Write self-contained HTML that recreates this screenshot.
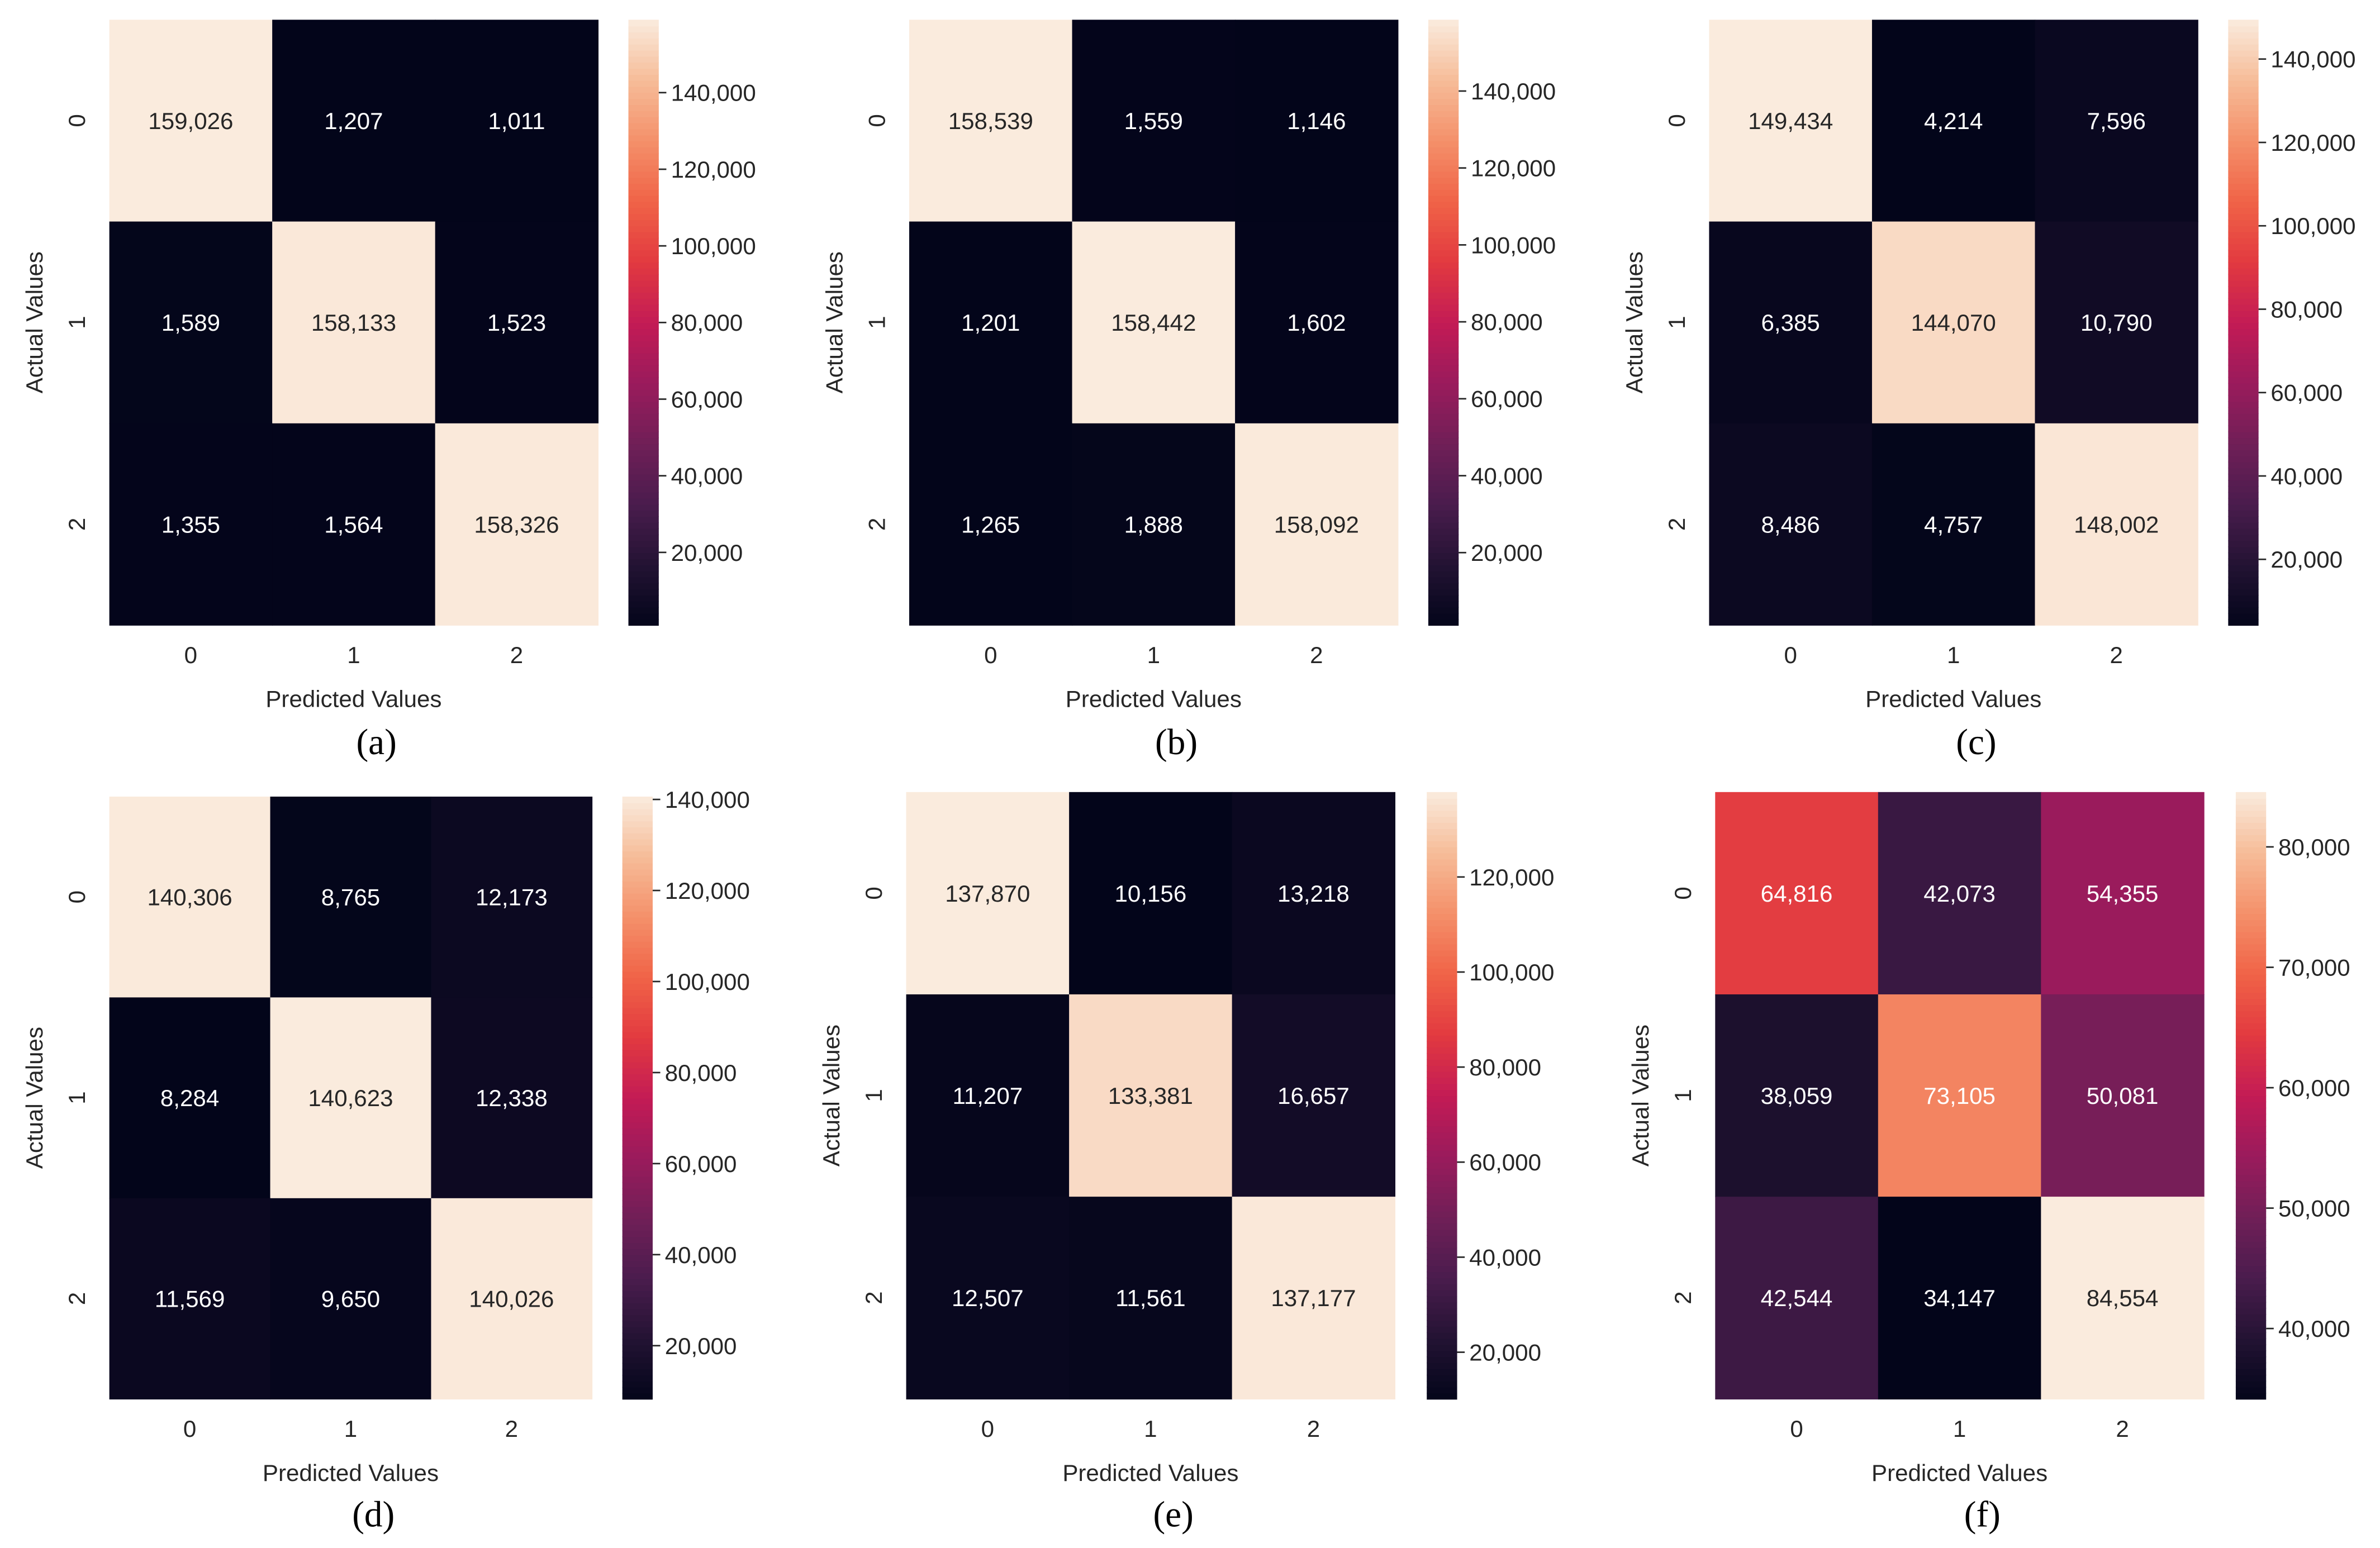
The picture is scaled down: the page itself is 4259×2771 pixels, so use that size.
<!DOCTYPE html>
<html><head><meta charset="utf-8"><style>
html,body{margin:0;padding:0;background:#fff}
svg{display:block}
</style></head><body>
<svg id="fig" width="4259" height="2771" viewBox="0 0 1568 1020.2" xmlns="http://www.w3.org/2000/svg"></svg>
<script>
const panelLabels = ["(a)","(b)","(c)","(d)","(e)","(f)"];
const classLabels = ["0","1","2"];
const valuesA = [[159026,1207,1011],[1589,158133,1523],[1355,1564,158326]];
const valuesB = [[158539,1559,1146],[1201,158442,1602],[1265,1888,158092]];
const valuesC = [[149434,4214,7596],[6385,144070,10790],[8486,4757,148002]];
const valuesD = [[140306,8765,12173],[8284,140623,12338],[11569,9650,140026]];
const valuesE = [[137870,10156,13218],[11207,133381,16657],[12507,11561,137177]];
const valuesF = [[64816,42073,54355],[38059,73105,50081],[42544,34147,84554]];
const ticksA = [20000,40000,60000,80000,100000,120000,140000];
const ticksB = [20000,40000,60000,80000,100000,120000,140000];
const ticksC = [20000,40000,60000,80000,100000,120000,140000];
const ticksD = [20000,40000,60000,80000,100000,120000,140000];
const ticksE = [20000,40000,60000,80000,100000,120000];
const ticksF = [40000,50000,60000,70000,80000];

const allValues=[valuesA,valuesB,valuesC,valuesD,valuesE,valuesF];
const allTicks=[ticksA,ticksB,ticksC,ticksD,ticksE,ticksF];
// layout (display units)
const layout=[
 {x0:72,x1:394,y0:13,y1:412,cb:414,tx:432,xl:461,pl:489},
 {x0:599,x1:921,y0:13,y1:412,cb:941,tx:432,xl:461,pl:489},
 {x0:1126,x1:1448,y0:13,y1:412,cb:1468,tx:432,xl:461,pl:489},
 {x0:72,x1:390,y0:525,y1:922,cb:410,tx:942,xl:971,pl:998},
 {x0:597,x1:919,y0:522,y1:922,cb:940,tx:942,xl:971,pl:998},
 {x0:1130,x1:1452,y0:522,y1:922,cb:1473,tx:942,xl:971,pl:998}
];
const stops=[[0,"#03051a"],[0.1,"#231333"],[0.2,"#4a1c4d"],[0.3,"#701f57"],[0.4,"#9a1b5c"],[0.5,"#c31b55"],[0.6,"#e23a40"],[0.7,"#f06347"],[0.8,"#f4906a"],[0.9,"#f6bc98"],[1,"#faebdd"]];
function hex(h){return [parseInt(h.slice(1,3),16),parseInt(h.slice(3,5),16),parseInt(h.slice(5,7),16)];}
function cmap(t){t=Math.max(0,Math.min(1,t));for(let i=1;i<stops.length;i++){if(t<=stops[i][0]){const a=stops[i-1],b=stops[i];const f=(t-a[0])/(b[0]-a[0]);const ca=hex(a[1]),cb=hex(b[1]);return "rgb("+ca.map((c,k)=>Math.round(c+(cb[k]-c)*f)).join(",")+")";}}return stops[stops.length-1][1];}
const NS="http://www.w3.org/2000/svg";
const svg=document.getElementById('fig');
function el(tag,attrs,parent){const e=document.createElementNS(NS,tag);for(const k in attrs)e.setAttribute(k,attrs[k]);(parent||svg).appendChild(e);return e;}
const FONT='"Liberation Sans", Arial, sans-serif';
allValues.forEach((vals,p)=>{
 const L=layout[p];
 const g=el('g',{});
 
 
 const flat=vals.flat();const vmin=Math.min(...flat),vmax=Math.max(...flat);
 const cw=(L.x1-L.x0)/3,ch=(L.y1-L.y0)/3;
 const xs=i=>L.x0+i*cw, ys=j=>L.y0+j*ch;
 vals.forEach((row,r)=>row.forEach((v,c)=>{
  const t=(v-vmin)/(vmax-vmin);
  const rc=el('rect',{x:xs(c),y:ys(r),width:cw+0.3,height:ch+0.3,fill:cmap(t)},g);
  
  
  const tx=el('text',{x:xs(c)+cw/2,y:ys(r)+ch/2+5.5,'text-anchor':'middle','font-size':15.5,'font-family':FONT,fill:t>0.82?'#262626':'#ffffff'},g);
  tx.textContent=v.toLocaleString('en-US');
  
  
 }));
 classLabels.forEach((lb,i)=>{
  const t=el('text',{x:xs(i)+cw/2,y:L.tx+5,'text-anchor':'middle','font-size':15.5,'font-family':FONT,fill:'#262626'},g);
  t.textContent=lb;
  
  
  const yy=ys(i)+ch/2, xx=L.x0-16;
  const t2=el('text',{x:xx,y:yy,'text-anchor':'middle','font-size':15.5,'font-family':FONT,fill:'#262626',transform:'rotate(-90 '+xx+' '+yy+')'},g);
  t2.textContent=lb;
  
  
 });
 const xl=el('text',{x:(L.x0+L.x1)/2,y:L.xl+5,'text-anchor':'middle','font-size':15.5,'font-family':FONT,fill:'#262626'},g);
 xl.textContent='Predicted Values';
 
 
 const ax=L.x0-44, ay=(L.y0+L.y1)/2;
 const yl=el('text',{x:ax,y:ay,'text-anchor':'middle','font-size':15.5,'font-family':FONT,fill:'#262626',transform:'rotate(-90 '+ax+' '+ay+')'},g);
 yl.textContent='Actual Values';
 
 
 const pl=el('text',{x:(L.x0+L.x1)/2+15,y:L.pl+8,'text-anchor':'middle','font-size':24,'font-family':'"Liberation Serif", serif',fill:'#000'},g);
 pl.textContent=panelLabels[p];
 
 
 // colorbar
 const cbw=20, N=100;
 const cbg=el('g',{},g);
 
 
 for(let k=0;k<N;k++){
  const y=L.y1-(k+1)*(L.y1-L.y0)/N;
  el('rect',{x:L.cb,y:y,width:cbw,height:(L.y1-L.y0)/N+0.4,fill:cmap((k+0.5)/N)},cbg);
 }
 const cy=v=>L.y1-(v-vmin)/(vmax-vmin)*(L.y1-L.y0);
 allTicks[p].forEach(tv=>{
  const y=cy(tv);
  el('line',{x1:L.cb+cbw,x2:L.cb+cbw+5,y1:y,y2:y,stroke:'#262626','stroke-width':1},cbg);
  const t=el('text',{x:L.cb+cbw+8,y:y+5.5,'font-size':15.5,'font-family':FONT,fill:'#262626'},cbg);
  t.textContent=tv.toLocaleString('en-US');
  
  
 });
});
</script>
</body></html>
